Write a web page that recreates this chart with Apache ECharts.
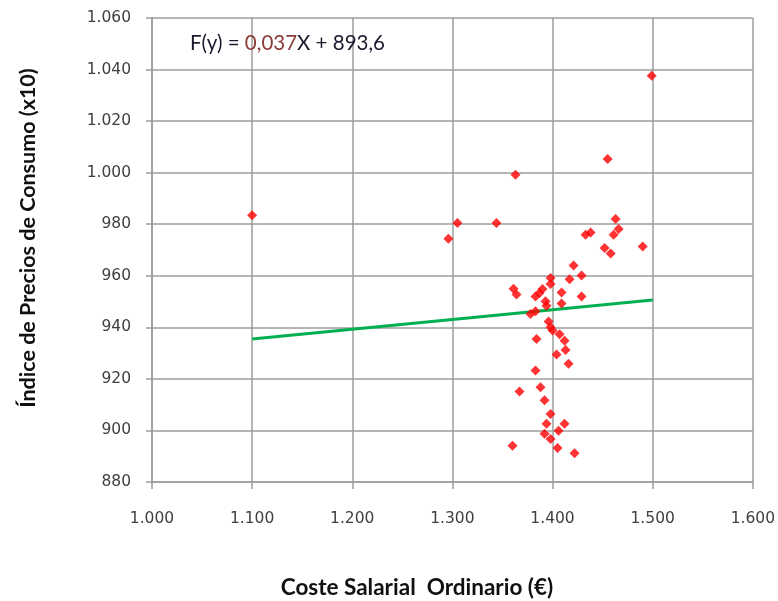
<!DOCTYPE html>
<html>
<head>
<meta charset="utf-8">
<script src="https://cdn.jsdelivr.net/npm/echarts@6/dist/echarts.min.js"></script>
<style>
html,body{margin:0;padding:0;background:#fff;}
#chart{width:778px;height:601px;}
</style>
</head>
<body>
<div id="chart"></div>
<script>
// Coste Salarial Ordinario (€)
var costeSalarial = [1100,1499,1455,1363,1344,1305,1296,1463,1466,1461,1438,1433,1452,1458,1490,
  1421,1429,1417,1398,1398,1361,1364,1390,1387,1383,1409,1429,1409,1393,1394,1383,1378,1396,1398,
  1400,1407,1412,1384,1413,1404,1416,1383,1367,1388,1392,1398,1394,1412,1392,1406,1398,1405,1360,1422];
// Índice de Precios de Consumo (x10)
var ipc = [983.5,1037.6,1005.3,999.2,980.5,980.5,974.4,982.0,978.1,975.9,976.8,975.9,970.8,968.6,971.4,
  964.0,960.1,958.7,959.1,956.8,955.0,952.7,954.9,953.3,952.0,953.5,952.0,949.2,950.1,948.4,946.2,945.2,942.3,940.0,
  938.8,937.3,934.8,935.5,931.2,929.5,925.9,923.3,915.1,916.8,911.7,906.4,902.6,902.6,898.7,899.9,896.7,893.2,894.1,891.2];
// Trend line end points
var trendX = [1100, 1500];
var trendY = [935.5, 950.6];
var xTicks = {min:1000, max:1600, step:100};
var yTicks = {min:880, max:1060, step:20};
var equationParts = ['F(y) = ', '0,037', 'X + 893,6'];

function fmt(v){
  var s = String(Math.round(v));
  if (s.length > 3) s = s.slice(0, s.length-3) + '.' + s.slice(s.length-3);
  return s;
}

var points = costeSalarial.map(function(x,i){ return [x, ipc[i]]; });
var trend = trendX.map(function(x,i){ return [x, trendY[i]]; });

var chart = echarts.init(document.getElementById('chart'), null, {renderer:'canvas'});
var gridColor = '#9c9c9c';
var labelFont = 'DejaVu Sans, Verdana, sans-serif';
chart.setOption({
  animation:false,
  backgroundColor:'#ffffff',
  grid:{left:152, right:24, top:18, bottom:119, show:false},
  xAxis:{
    type:'value', min:xTicks.min, max:xTicks.max, interval:xTicks.step,
    axisLine:{show:true, onZero:false, lineStyle:{color:gridColor, width:1.5}},
    axisTick:{show:true, length:7, lineStyle:{color:gridColor, width:1.5}},
    splitLine:{show:true, showMinLine:true, showMaxLine:true, lineStyle:{color:gridColor, width:1.5, type:'solid'}},
    axisLabel:{color:'#404040', fontFamily:labelFont, fontSize:15.5, margin:29, formatter:fmt}
  },
  yAxis:{
    type:'value', min:yTicks.min, max:yTicks.max, interval:yTicks.step,
    axisLine:{show:true, onZero:false, lineStyle:{color:gridColor, width:1.5}},
    axisTick:{show:true, length:6, lineStyle:{color:gridColor, width:1.5}},
    splitLine:{show:true, showMinLine:true, showMaxLine:true, lineStyle:{color:gridColor, width:1.5, type:'solid'}},
    axisLabel:{color:'#404040', fontFamily:labelFont, fontSize:15.5, margin:21, formatter:fmt}
  },
  series:[
    {
      type:'line', data:trend, symbol:'none', silent:true, z:2,
      lineStyle:{color:'#00B050', width:3}
    },
    {
      type:'scatter', data:points, symbol:'diamond', symbolSize:10, z:3,
      itemStyle:{color:'#FF0000'}
    }
  ],
  graphic:[
    {
      type:'text', left:190, top:33, z:10,
      style:{
        text:'{a|'+equationParts[0]+'}{b|'+equationParts[1]+'}{a|'+equationParts[2]+'}',
        rich:{
          a:{fontFamily:'Lato, "Open Sans", sans-serif', fontSize:20.5, fill:'#1a1a2e', fontWeight:'normal'},
          b:{fontFamily:'Lato, "Open Sans", sans-serif', fontSize:20.5, fill:'#8B3A3A', fontWeight:'normal'}
        }
      }
    },
    {
      type:'text', x:417, y:588, z:10,
      style:{
        text:'Coste Salarial  Ordinario (€)',
        fontFamily:'Lato, "Open Sans", sans-serif', fontSize:22.5, fill:'#111', fontWeight:'bold',
        align:'center', verticalAlign:'middle'
      }
    },
    {
      type:'text', x:28, y:238, rotation:Math.PI/2, z:10,
      style:{
        text:'Índice de Precios de Consumo (x10)',
        fontFamily:'Lato, "Open Sans", sans-serif', fontSize:21.5, fill:'#111', fontWeight:'bold',
        align:'center', verticalAlign:'middle'
      }
    }
  ]
});
</script>
</body>
</html>
